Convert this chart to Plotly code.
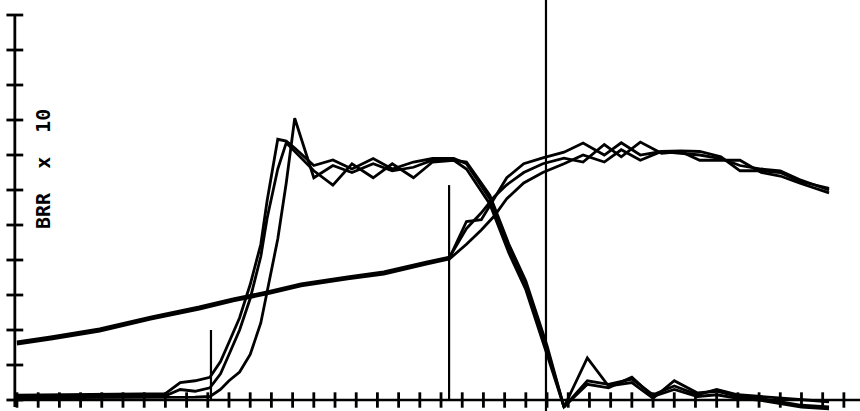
import plotly.graph_objects as go

# ---- first set of runs: sharp rise, plateau, fall, ringing ----
x_first = [0, 7.0, 7.7, 8.4, 9.1, 9.6, 10.0, 10.5, 11.0, 11.5, 11.8, 12.3, 12.7, 13.1,
           14.0, 14.9, 15.8, 16.8, 17.7, 18.7, 19.6, 20.6, 21.2, 22.3, 23.2, 24.0,
           25.0, 25.8, 26.9, 27.9, 29.0, 30.0, 31.0, 32.1, 33.0, 34.0, 35.0, 36.0,
           37.0, 38.3]
run_a1 = [0.14, 0.18, 0.5, 0.55, 0.65, 1.1, 1.65, 2.35, 3.3, 4.45, 5.7, 7.45, 7.4, 7.2,
          6.7, 6.86, 6.6, 6.9, 6.6, 6.8, 6.9, 6.9, 6.75, 5.75, 4.35, 3.3,
          1.45, -0.2, 1.2, 0.4, 0.5, 0.05, 0.55, 0.2, 0.25, 0.1, 0.05, -0.05,
          -0.15, -0.2]
run_a2 = [0.1, 0.12, 0.3, 0.25, 0.35, 0.75, 1.3, 2.0, 2.9, 4.1, 5.2, 6.6, 7.35, 7.1,
          6.55, 6.14, 6.75, 6.35, 6.75, 6.35, 6.8, 6.85, 6.8, 5.85, 4.45, 3.4,
          1.55, -0.2, 0.55, 0.45, 0.6, 0.15, 0.4, 0.15, 0.3, 0.15, 0.1, 0.05,
          0.0, -0.05]
run_a3 = [0.06, 0.06, 0.06, 0.08, 0.1, 0.3, 0.55, 0.8, 1.3, 2.2, 3.1, 4.6, 6.2, 8.05,
          6.35, 6.7, 6.5, 6.75, 6.55, 6.65, 6.85, 6.85, 6.6, 5.6, 4.2, 3.15,
          1.3, -0.2, 0.45, 0.35, 0.65, 0.1, 0.3, 0.1, 0.15, 0.05, 0.0, -0.1,
          -0.2, -0.25]

# ---- second set of runs: slow ramp, late rise, broad plateau ----
x_second = [0, 1.6, 3.9, 6.3, 8.6, 10.2, 11.8, 13.4, 15.6, 17.3, 19.3, 20.4,
            21.2, 21.9, 22.5, 23.1, 23.9, 24.8, 25.8, 26.7, 27.7, 28.5, 29.4, 30.4,
            31.3, 32.2, 33.2, 34.1, 35.1, 36.0, 36.9, 38.3]
run_b1 = [1.63, 1.77, 2.0, 2.34, 2.63, 2.86, 3.06, 3.29, 3.49, 3.63, 3.91, 4.06,
          5.1, 5.15, 5.75, 6.35, 6.75, 6.92, 7.08, 7.34, 7.0, 7.35, 7.0, 7.1,
          7.12, 7.1, 6.95, 6.55, 6.55, 6.5, 6.25, 6.05]
run_b2 = [1.66, 1.8, 2.03, 2.37, 2.66, 2.89, 3.09, 3.32, 3.52, 3.66, 3.94, 4.08,
          4.9, 5.35, 5.8, 6.15, 6.5, 6.75, 6.91, 6.8, 7.3, 6.95, 7.37, 7.05,
          7.1, 6.85, 6.85, 6.85, 6.5, 6.4, 6.2, 5.92]
run_b3 = [1.6, 1.74, 1.97, 2.31, 2.6, 2.83, 3.03, 3.26, 3.46, 3.6, 3.88, 4.03,
          4.45, 4.86, 5.25, 5.75, 6.2, 6.5, 6.75, 7.0, 6.8, 7.15, 6.85, 7.1,
          7.05, 7.0, 6.9, 6.7, 6.6, 6.55, 6.3, 6.0]

# ---- event markers (position, foot, head) ----
event_x = [9.15, 20.38, 24.95]
event_foot = [0, 0, -0.5]
event_head = [2.0, 6.14, 12.0]

# ---- axes ----
x_ticks = list(range(40))
y_ticks = list(range(12))
y_axis_x = -0.1
x_axis_end = 39.8
label_text = "BRR\u00a0\u00a0x\u00a0\u00a010"

INK = "#000000"
fig = go.Figure()

# axis lines
fig.add_trace(go.Scatter(x=[y_axis_x, y_axis_x], y=[-0.2, y_ticks[-1]], mode="lines",
                         line=dict(color=INK, width=2.8), hoverinfo="skip"))
fig.add_trace(go.Scatter(x=[y_axis_x, x_axis_end], y=[0, 0], mode="lines",
                         line=dict(color=INK, width=2.6), hoverinfo="skip"))
# tick marks crossing the axes
fig.add_trace(go.Scatter(x=[y_axis_x] * len(y_ticks), y=y_ticks, mode="markers",
                         marker=dict(symbol="line-ew", size=12,
                                     line=dict(color=INK, width=2.8)),
                         hoverinfo="skip"))
fig.add_trace(go.Scatter(x=x_ticks, y=[0] * len(x_ticks), mode="markers",
                         marker=dict(symbol="line-ns", size=11,
                                     line=dict(color=INK, width=2.8)),
                         hoverinfo="skip"))

# event markers
for ex, ef, eh in zip(event_x, event_foot, event_head):
    fig.add_trace(go.Scatter(x=[ex, ex], y=[ef, eh], mode="lines",
                             line=dict(color=INK, width=2.2), hoverinfo="skip"))

# data curves
for ys in (run_b1, run_b2, run_b3):
    fig.add_trace(go.Scatter(x=x_second, y=ys, mode="lines",
                             line=dict(color=INK, width=2.8)))
for ys in (run_a1, run_a2, run_a3):
    fig.add_trace(go.Scatter(x=x_first, y=ys, mode="lines",
                             line=dict(color=INK, width=2.8)))

fig.add_annotation(x=43 / 860, y=1 - 169 / 411, xref="paper", yref="paper",
                   xanchor="center", yanchor="middle",
                   text=label_text, showarrow=False, textangle=-90,
                   font=dict(family="DejaVu Sans Mono", size=20, color=INK,
                             weight="bold"))

fig.update_layout(
    width=860, height=411, margin=dict(l=0, r=0, t=0, b=0),
    paper_bgcolor="white", plot_bgcolor="white", showlegend=False,
    xaxis=dict(range=[-0.8, 39.76], visible=False),
    yaxis=dict(range=[-0.314, 11.429], visible=False),
)

fig.write_html("out.html")
